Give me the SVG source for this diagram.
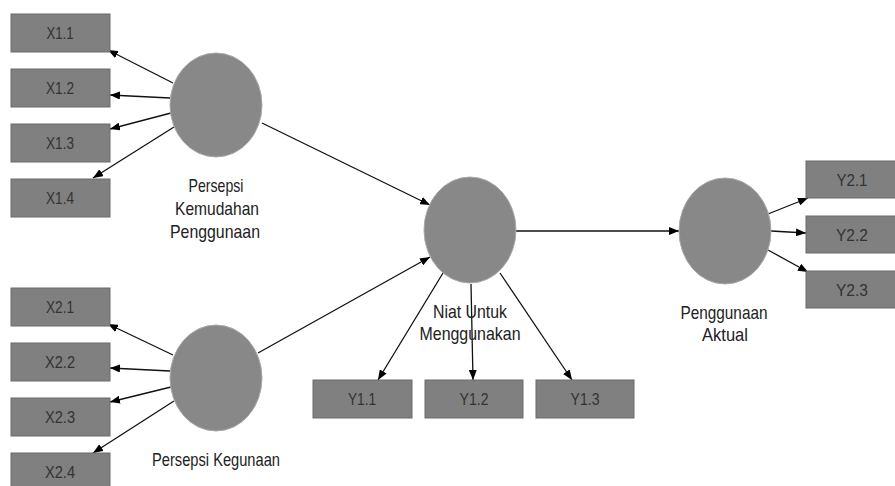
<svg xmlns="http://www.w3.org/2000/svg" width="895" height="486" viewBox="0 0 895 486">
<defs>
<marker id="ah" markerWidth="10" markerHeight="8" refX="10" refY="4" orient="auto" markerUnits="userSpaceOnUse">
<path d="M0,0 L10,4 L0,8 Z" fill="#000"/>
</marker>
<style>
.box{fill:#808080;stroke:#6a6a6a;stroke-width:1}
.lat{fill:#888888;stroke:#aaaaaa;stroke-width:1}
.bt{font-family:"Liberation Sans",Arial,sans-serif;font-size:16px;fill:#333;text-anchor:middle}
.lt{font-family:"Liberation Sans",Arial,sans-serif;font-size:18.5px;fill:#222;text-anchor:middle}
.c{stroke:#111;stroke-width:1.3;fill:none;marker-end:url(#ah)}
</style>
</defs>
<rect width="895" height="486" fill="#fff"/>
<g id="connectors">
<line class="c" x1="173" y1="83" x2="108" y2="50"/>
<line class="c" x1="170" y1="98" x2="110" y2="95"/>
<line class="c" x1="171" y1="113" x2="110" y2="129"/>
<line class="c" x1="174" y1="127" x2="93" y2="178"/>
<line class="c" x1="173" y1="355" x2="108" y2="324"/>
<line class="c" x1="170" y1="371" x2="110" y2="368"/>
<line class="c" x1="171" y1="387" x2="110" y2="402"/>
<line class="c" x1="174" y1="401" x2="93" y2="453"/>
<line class="c" x1="262" y1="123" x2="430" y2="205"/>
<line class="c" x1="258" y1="353" x2="430" y2="257"/>
<line class="c" x1="516" y1="231" x2="679" y2="231"/>
<line class="c" x1="443" y1="273" x2="378" y2="380"/>
<line class="c" x1="471" y1="284" x2="473" y2="380"/>
<line class="c" x1="500" y1="273" x2="572" y2="380"/>
<line class="c" x1="768" y1="214" x2="808" y2="198"/>
<line class="c" x1="771" y1="231" x2="806" y2="233"/>
<line class="c" x1="768" y1="250" x2="808" y2="272"/>
</g>
<g id="X1.1"><rect class="box" x="11" y="14" width="99" height="38"/><text class="bt" x="60" y="39" textLength="27" lengthAdjust="spacingAndGlyphs">X1.1</text></g>
<g id="X1.2"><rect class="box" x="11" y="69" width="99" height="38"/><text class="bt" x="60" y="94" textLength="28" lengthAdjust="spacingAndGlyphs">X1.2</text></g>
<g id="X1.3"><rect class="box" x="11" y="124" width="99" height="38"/><text class="bt" x="60" y="149" textLength="28" lengthAdjust="spacingAndGlyphs">X1.3</text></g>
<g id="X1.4"><rect class="box" x="11" y="179" width="99" height="38"/><text class="bt" x="60" y="204" textLength="28" lengthAdjust="spacingAndGlyphs">X1.4</text></g>
<g id="X2.1"><rect class="box" x="11" y="288" width="99" height="38"/><text class="bt" x="60" y="313" textLength="28" lengthAdjust="spacingAndGlyphs">X2.1</text></g>
<g id="X2.2"><rect class="box" x="11" y="343" width="99" height="38"/><text class="bt" x="60" y="368" textLength="30" lengthAdjust="spacingAndGlyphs">X2.2</text></g>
<g id="X2.3"><rect class="box" x="11" y="398" width="99" height="38"/><text class="bt" x="60" y="423" textLength="30" lengthAdjust="spacingAndGlyphs">X2.3</text></g>
<g id="X2.4"><rect class="box" x="11" y="453" width="99" height="38"/><text class="bt" x="60" y="478" textLength="30" lengthAdjust="spacingAndGlyphs">X2.4</text></g>
<g id="Y1.1"><rect class="box" x="313" y="380" width="99" height="38"/><text class="bt" x="362" y="405" textLength="28" lengthAdjust="spacingAndGlyphs">Y1.1</text></g>
<g id="Y1.2"><rect class="box" x="425" y="380" width="98" height="38"/><text class="bt" x="474" y="405" textLength="29" lengthAdjust="spacingAndGlyphs">Y1.2</text></g>
<g id="Y1.3"><rect class="box" x="536" y="380" width="98" height="38"/><text class="bt" x="585" y="405" textLength="29" lengthAdjust="spacingAndGlyphs">Y1.3</text></g>
<g id="Y2.1"><rect class="box" x="806" y="161" width="96" height="37"/><text class="bt" x="852" y="186" textLength="31" lengthAdjust="spacingAndGlyphs">Y2.1</text></g>
<g id="Y2.2"><rect class="box" x="806" y="216" width="96" height="37"/><text class="bt" x="852" y="241" textLength="32" lengthAdjust="spacingAndGlyphs">Y2.2</text></g>
<g id="Y2.3"><rect class="box" x="806" y="271" width="96" height="37"/><text class="bt" x="852" y="296" textLength="32" lengthAdjust="spacingAndGlyphs">Y2.3</text></g>
<g id="PersepsiKemudahan"><ellipse class="lat" cx="216" cy="105" rx="46" ry="52"/><text class="lt" x="216" y="192" textLength="55" lengthAdjust="spacingAndGlyphs">Persepsi</text><text class="lt" x="217" y="215" textLength="84" lengthAdjust="spacingAndGlyphs">Kemudahan</text><text class="lt" x="215" y="238" textLength="90" lengthAdjust="spacingAndGlyphs">Penggunaan</text></g>
<g id="PersepsiKegunaan"><ellipse class="lat" cx="216" cy="378" rx="46" ry="53"/><text class="lt" x="216" y="466" textLength="128" lengthAdjust="spacingAndGlyphs">Persepsi Kegunaan</text></g>
<g id="NiatUntuk"><ellipse class="lat" cx="470" cy="230" rx="46" ry="53"/><text class="lt" x="470" y="318" textLength="74" lengthAdjust="spacingAndGlyphs">Niat Untuk</text><text class="lt" x="470" y="340" textLength="101" lengthAdjust="spacingAndGlyphs">Menggunakan</text></g>
<g id="PenggunaanAktual"><ellipse class="lat" cx="725" cy="231" rx="46" ry="53"/><text class="lt" x="724" y="319" textLength="87" lengthAdjust="spacingAndGlyphs">Penggunaan</text><text class="lt" x="725" y="341" textLength="46" lengthAdjust="spacingAndGlyphs">Aktual</text></g>
</svg>
